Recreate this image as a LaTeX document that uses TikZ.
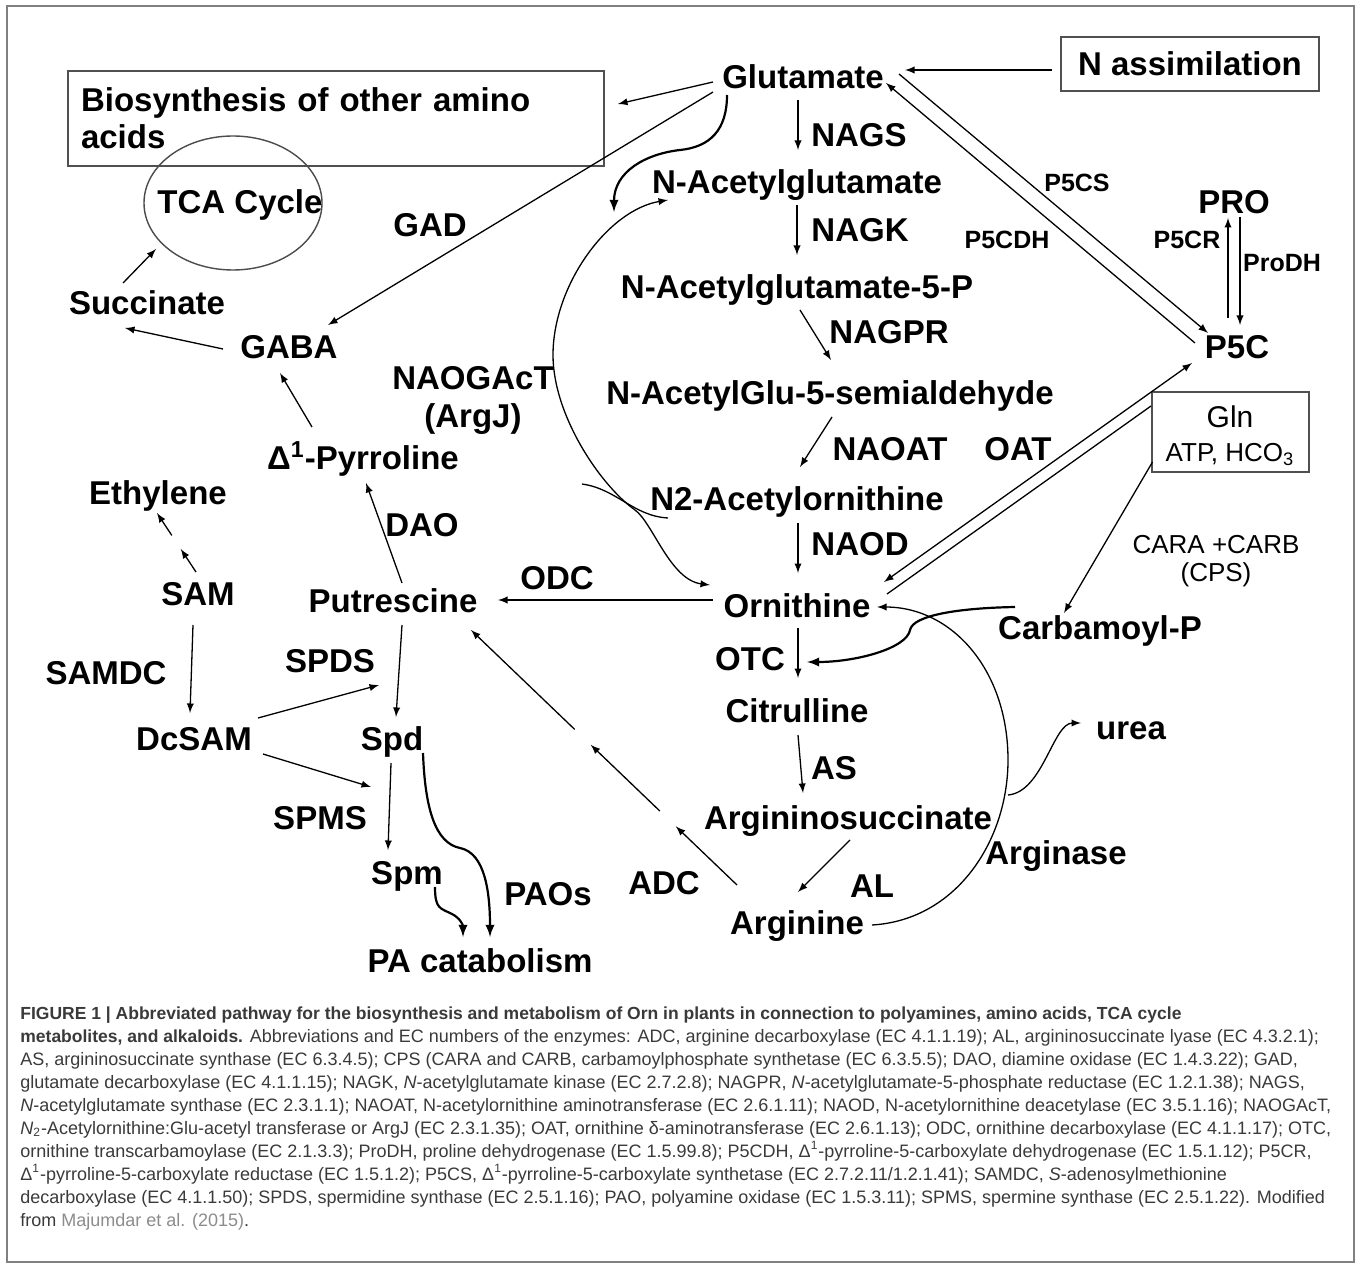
\documentclass[tikz,border=0pt]{standalone}
\usepackage{fontspec}
\setmainfont{Liberation Sans}
\usetikzlibrary{positioning}
\usetikzlibrary{arrows}
\usetikzlibrary{calc}
\usetikzlibrary{shapes.geometric}
\definecolor{frame-gray}{HTML}{808080}
\definecolor{box-gray}{HTML}{505050}
\definecolor{caption-ink}{HTML}{3A3A3A}
\definecolor{cite-gray}{HTML}{8C8C8C}
\tikzset{
  metabolite/.style={inner sep=0pt, font=\bfseries\fontsize{16.5}{18.5}\selectfont, text height=12pt, text depth=0pt},
  enzyme/.style={metabolite},
  enzyme-small/.style={inner sep=0pt, font=\bfseries\fontsize{12.5}{14}\selectfont, text height=9pt, text depth=0pt},
  pool-box/.style={draw=box-gray, line width=1pt, inner sep=0pt},
  rxn-path/.style={line width=0.65pt, -latex},
  rxn-thick/.style={line width=1.1pt, -latex},
  caption-text/.style={inner sep=0pt, align=left, text=caption-ink, font=\fontsize{9}{11.5}\selectfont},
}
% arrow drawn in pieces along one line
\newcommand{\brokenarrow}[3]{%
\foreach \segstart/\segend in {#3} {
  \draw[rxn-path] ($(#1)!\segstart!(#2)$) -- ($(#1)!\segend!(#2)$);
}
}
\newcommand{\capbold}[1]{{\fontsize{8.75}{11.5}\selectfont\bfseries #1}}

\begin{document}
\begin{tikzpicture}[x=0.5pt, y=-0.5pt]
\useasboundingbox (0,0) rectangle (1360,1267);
\fill[white] (0,0) rectangle (1360,1267);
\draw[frame-gray, line width=0.8pt] (7,6) rectangle (1354,1262);

% boxes
\node[pool-box, metabolite, minimum width=129pt, minimum height=27pt] (NAssim) at (1190,64) {N assimilation};
\node[pool-box, anchor=north west, minimum width=268pt, minimum height=47.5pt, text width=255pt, inner xsep=6.5pt,
  align=left, font=\bfseries\fontsize{16.5}{18.5}\selectfont] (OtherAA) at (67,70) {Biosynthesis of other amino\\acids};
\node[draw=black!70, line width=0.7pt, ellipse, minimum width=89pt, minimum height=67pt, inner sep=0pt] (TCA) at (233,203) {};
\node[metabolite] (TCAlabel) at (240,202) {TCA Cycle};
\node[pool-box, minimum width=78.5pt, minimum height=40pt] (GlnBox) at (1230.5,432) {};
\node[inner sep=0pt, font=\fontsize{15}{17}\selectfont, text height=11pt, text depth=0pt] (Gln) at (1230,417) {Gln};
\node[inner sep=0pt, font=\fontsize{13}{15}\selectfont, text height=9.4pt, text depth=0pt] (GlnCofactors) at (1230,452) {ATP, HCO\textsubscript{3}};

% metabolites
\node[metabolite] (Glutamate) at (803,77) {Glutamate};
\node[metabolite] (NAcGlu) at (797,182) {N-Acetylglutamate};
\node[metabolite] (NAcGluP) at (797,287) {N-Acetylglutamate-5-P};
\node[metabolite] (NAcGluSA) at (830,393) {N-AcetylGlu-5-semialdehyde};
\node[metabolite] (NAcOrn) at (797,498) {N2-Acetylornithine};
\node[metabolite] (Ornithine) at (797,605) {Ornithine};
\node[metabolite] (Citrulline) at (797,710) {Citrulline};
\node[metabolite] (ArgSucc) at (848,817) {Argininosuccinate};
\node[metabolite] (Arginine) at (797,922) {Arginine};
\node[metabolite] (CarbP) at (1100,627) {Carbamoyl-P};
\node[metabolite] (Urea) at (1131,727) {urea};
\node[metabolite] (PRO) at (1234,202) {PRO};
\node[metabolite] (P5C) at (1237,347) {P5C};
\node[metabolite] (Succinate) at (147,303) {Succinate};
\node[metabolite] (GABA) at (289,347) {GABA};
\node[metabolite] (Pyrroline) at (363,458) {Δ\textsuperscript{1}-Pyrroline};
\node[metabolite] (Ethylene) at (158,492) {Ethylene};
\node[metabolite] (SAM) at (198,593) {SAM};
\node[metabolite] (Putrescine) at (393,600) {Putrescine};
\node[metabolite] (DcSAM) at (194,738) {DcSAM};
\node[metabolite] (Spd) at (392,738) {Spd};
\node[metabolite] (Spm) at (407,872) {Spm};
\node[metabolite] (PAcat) at (480,960) {PA catabolism};

% enzymes
\foreach \name/\x/\y/\txt in {gad/430/225/GAD, nags/859/135/NAGS, nagk/860/230/NAGK, nagpr/889/332/NAGPR,
  naoat/890/448/NAOAT, oat/1018/448/OAT, naod/860/543/NAOD, otc/750/658/OTC, as/834/767/AS, al/872/885/AL,
  adc/664/882/ADC, arginase/1056/852/Arginase, odc/557/577/ODC, dao/422/525/DAO, spds/330/660/SPDS,
  samdc/106/672/SAMDC, spms/320/817/SPMS, paos/548/893/PAOs, naogact/473/378/NAOGAcT, argj/473/416/{(ArgJ)}}
  \node[enzyme] (\name) at (\x,\y) {\txt};
\foreach \name/\x/\y/\txt in {p5cs/1077/183/P5CS, p5cdh/1007/240/P5CDH, p5cr/1187/240/P5CR, prodh/1282/263/ProDH}
  \node[enzyme-small] (\name) at (\x,\y) {\txt};
\node[inner sep=0pt, align=center, font=\fontsize{13}{14}\selectfont] (cps) at (1216,561) {CARA +CARB\\(CPS)};

% glutamate branch
\draw[rxn-path] ($(NAssim)+(-138,6)$) -- ($(Glutamate)+(102,-7)$);
\draw[rxn-path] ($(Glutamate)+(-90,5)$) -- ($(OtherAA)+(282,-14.5)$);
\draw[rxn-path] ($(Glutamate)+(-90,15)$) -- ($(GABA)+(39,-22)$);
\draw[rxn-thick] ($(Glutamate)+(-76,18)$) .. controls +(0,35) and +(30,-3) .. (680,150)
  .. controls +(-35,4) and +(0,-40) .. ($(NAcGlu)+(-183,30)$);
\draw[rxn-path] ($(Glutamate)+(96,-3)$) -- ($(P5C)+(-29,-14)$);
\draw[rxn-path] ($(P5C)+(-42,-4)$) -- ($(Glutamate)+(83,6)$);
\draw[rxn-path] ($(P5C)+(-9,-29)$) -- ($(PRO)+(-6,16)$);
\draw[rxn-path] ($(PRO)+(6,15)$) -- ($(P5C)+(3,-22)$);

% acetylated route
\draw[rxn-path] ($(Glutamate)+(-5,23)$) -- ($(NAcGlu)+(1,-32)$);
\draw[rxn-path] ($(NAcGlu)+(0,23)$) -- ($(NAcGluP)+(0,-32)$);
\draw[rxn-path] ($(NAcGluP)+(3,23)$) -- ($(NAcGluSA)+(1,-33)$);
\draw[rxn-path] ($(NAcGluSA)+(2,24)$) -- ($(NAcOrn)+(3,-31)$);
\draw[rxn-path] ($(NAcOrn)+(1,25)$) -- ($(Ornithine)+(1,-32)$);
\draw[rxn-path, latex-latex] ($(NAcGlu)+(-129,18)$) .. controls +(-60,10) and +(0,-70) .. (553,355)
  .. controls +(0,60) and +(-35,-25) .. (635,510) .. controls +(18,13) and +(-40,-5) .. ($(Ornithine)+(-87,-20)$);
\coordinate (argj-join) at (582,484);
\draw[line width=0.65pt] ($(NAcOrn)+(-129,20)$) .. controls +(-35,-2) and +(35,5) .. (argj-join);

% urea cycle
\draw[rxn-path] ($(Ornithine)+(1,23)$) -- ($(Citrulline)+(1,-32)$);
\draw[rxn-path] ($(Citrulline)+(1,25)$) -- ($(ArgSucc)+(-45,-24)$);
\draw[rxn-path] ($(ArgSucc)+(2,23)$) -- ($(Arginine)+(1,-30)$);
\draw[rxn-path] ($(Arginine)+(75,3)$) .. controls +(85,-5) and +(0,80) .. (1008,760)
  .. controls +(0,-90) and +(75,0) .. ($(Ornithine)+(80,2)$);
\draw[rxn-path] ($(Urea)+(-123,68)$) .. controls +(35,-3) and +(-28,0) .. ($(Urea)+(-50,-4)$);
\draw[rxn-path] ($(GlnBox)+(-78,30)$) -- ($(CarbP)+(-36,-14)$);
\draw[rxn-thick] ($(CarbP)+(-85,-20)$) .. controls +(-55,1) and +(3,-15) .. (910,630)
  .. controls +(-3,18) and +(50,0) .. ($(Citrulline)+(10,-48)$);
\draw[rxn-path, latex-latex] ($(Ornithine)+(87,-23)$) -- ($(P5C)+(-45,16)$);
\draw[line width=0.65pt] ($(Ornithine)+(90,-11)$) -- ($(GlnBox)+(-79.5,-26)$);

% polyamines
\draw[rxn-path] ($(Ornithine)+(-84,-5)$) -- ($(Putrescine)+(105,0)$);
\coordinate (adc-a) at ($(Arginine)+(-60,-37)$);
\coordinate (adc-b) at ($(Putrescine)+(78,30)$);
\brokenarrow{adc-a}{adc-b}{0/0.23, 0.29/0.55, 0.61/1}
\draw[rxn-path] ($(Putrescine)+(9,-17)$) -- ($(Pyrroline)+(3,25)$);
\draw[rxn-path] ($(Pyrroline)+(-51,-31)$) -- ($(GABA)+(-9,26)$);
\draw[rxn-path] ($(GABA)+(-66,2)$) -- ($(Succinate)+(-22,25)$);
\draw[rxn-path] ($(Succinate)+(-24,-20)$) -- ($(TCA)+(-77,46)$);
\coordinate (eth-a) at ($(SAM)+(-2,-21)$);
\coordinate (eth-b) at ($(Ethylene)+(-1,21)$);
\brokenarrow{eth-a}{eth-b}{0/0.39, 0.62/1}
\draw[rxn-path] ($(SAM)+(-5,32)$) -- ($(DcSAM)+(-4,-25)$);
\draw[rxn-path] ($(DcSAM)+(64,-20)$) -- ($(Spd)+(-13,-53)$);
\draw[rxn-path] ($(DcSAM)+(69,16)$) -- ($(Spm)+(-36,-85)$);
\draw[rxn-path] ($(Putrescine)+(9,25)$) -- ($(Spd)+(4,-21)$);
\draw[rxn-path] ($(Spd)+(-1,25)$) -- ($(Spm)+(-19,-22)$);
\draw[rxn-thick] ($(Spd)+(31,15)$) .. controls +(2,55) and +(-25,-5) .. (460,848)
  .. controls +(25,5) and +(0,-45) .. ($(PAcat)+(10,-23)$);
\draw[rxn-thick] ($(Spm)+(28,15)$) .. controls +(0,22) and +(-12,-6) .. (452,914)
  .. controls +(8,4) and +(0,-12) .. ($(PAcat)+(-17,-23)$);

% caption
\node[caption-text, anchor=north west] (Caption) at (20,1006) {%
\capbold{FIGURE 1 | Abbreviated pathway for the biosynthesis and metabolism of Orn in plants in connection to polyamines, amino acids, TCA cycle}\\
\capbold{metabolites, and alkaloids.} Abbreviations and EC numbers of the enzymes: ADC, arginine decarboxylase (EC 4.1.1.19); AL, argininosuccinate lyase (EC 4.3.2.1);\\
AS, argininosuccinate synthase (EC 6.3.4.5); CPS (CARA and CARB, carbamoylphosphate synthetase (EC 6.3.5.5); DAO, diamine oxidase (EC 1.4.3.22); GAD,\\
glutamate decarboxylase (EC 4.1.1.15); NAGK, \textit{N}-acetylglutamate kinase (EC 2.7.2.8); NAGPR, \textit{N}-acetylglutamate-5-phosphate reductase (EC 1.2.1.38); NAGS,\\
\textit{N}-acetylglutamate synthase (EC 2.3.1.1); NAOAT, N-acetylornithine aminotransferase (EC 2.6.1.11); NAOD, N-acetylornithine deacetylase (EC 3.5.1.16); NAOGAcT,\\
\textit{N}\textsubscript{2}-Acetylornithine:Glu-acetyl transferase or ArgJ (EC 2.3.1.35); OAT, ornithine δ-aminotransferase (EC 2.6.1.13); ODC, ornithine decarboxylase (EC 4.1.1.17); OTC,\\
ornithine transcarbamoylase (EC 2.1.3.3); ProDH, proline dehydrogenase (EC 1.5.99.8); P5CDH, Δ\textsuperscript{1}-pyrroline-5-carboxylate dehydrogenase (EC 1.5.1.12); P5CR,\\
Δ\textsuperscript{1}-pyrroline-5-carboxylate reductase (EC 1.5.1.2); P5CS, Δ\textsuperscript{1}-pyrroline-5-carboxylate synthetase (EC 2.7.2.11/1.2.1.41); SAMDC, \textit{S}-adenosylmethionine\\
decarboxylase (EC 4.1.1.50); SPDS, spermidine synthase (EC 2.5.1.16); PAO, polyamine oxidase (EC 1.5.3.11); SPMS, spermine synthase (EC 2.5.1.22). Modified\\
from \textcolor{cite-gray}{Majumdar et al. (2015)}.};
\end{tikzpicture}
\end{document}
